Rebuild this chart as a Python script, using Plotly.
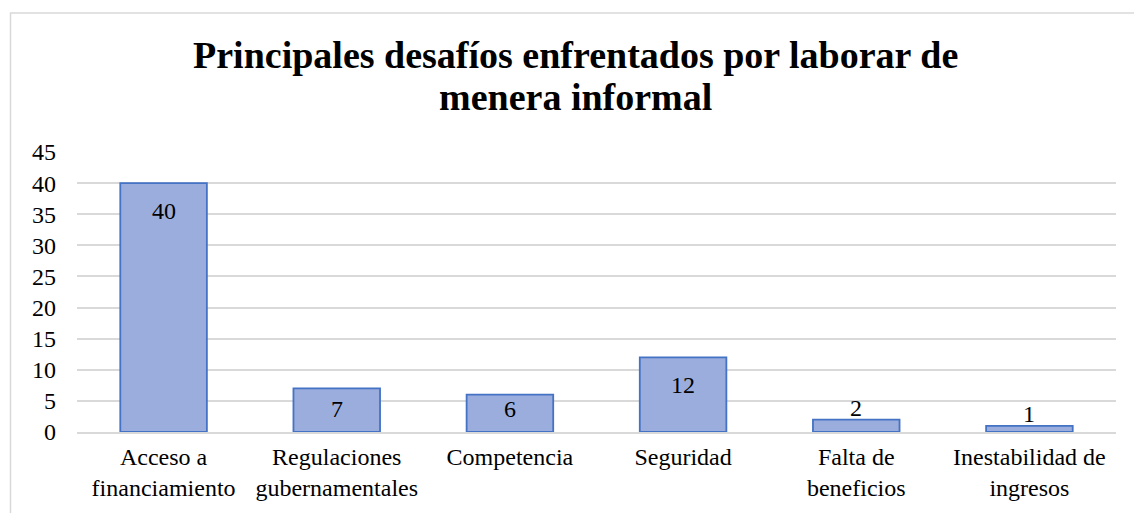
import plotly.graph_objects as go

categories = ["Acceso a<br>financiamiento", "Regulaciones<br>gubernamentales", "Competencia",
              "Seguridad", "Falta de<br>beneficios", "Inestabilidad de<br>ingresos"]
values = [40, 7, 6, 12, 2, 1]
title_lines = ["Principales desafíos enfrentados por laborar de", "menera informal"]
y_ticks = [0, 5, 10, 15, 20, 25, 30, 35, 40, 45]

FONT = "Times New Roman, Liberation Serif, serif"
W, H = 1134, 513
M_L, M_R, M_T, M_B = 77, 18, 152, 81
Y_MAX = 45
px_per_unit = (H - M_T - M_B) / Y_MAX

fig = go.Figure()
fig.add_trace(go.Bar(
    x=categories, y=values,
    marker=dict(color="#9BADDD", line=dict(color="#4472C4", width=1.8)),
    hoverinfo="x+y",
))

annotations = []
for c, v in zip(categories, values):
    h = v * px_per_unit
    if h >= 50:      # inside end
        a = dict(y=v, yanchor="top", yshift=-13)
    elif h >= 30:    # inside, held above the base
        a = dict(y=0, yanchor="bottom", yshift=8)
    else:            # outside end
        a = dict(y=v, yanchor="bottom", yshift=-3)
    a.update(x=c, xref="x", yref="y", text=str(v), showarrow=False,
             font=dict(family=FONT, size=24, color="#000000"))
    annotations.append(a)

annotations.append(dict(x=0.480, y=1.346, xref="paper", yref="paper", text=title_lines[0],
                        showarrow=False, xanchor="center", yanchor="middle",
                        font=dict(family=FONT, size=38, color="#000000", weight="bold")))
annotations.append(dict(x=0.480, y=1.196, xref="paper", yref="paper", text=title_lines[1],
                        showarrow=False, xanchor="center", yanchor="middle",
                        font=dict(family=FONT, size=38, color="#000000", weight="bold")))

fig.update_layout(
    width=W, height=H,
    margin=dict(l=M_L, r=M_R, t=M_T, b=M_B),
    paper_bgcolor="white", plot_bgcolor="white",
    bargap=0.5,
    showlegend=False,
    font=dict(family=FONT, size=24, color="#000000"),
    annotations=annotations,
    shapes=[dict(type="rect", xref="paper", yref="paper",
                 x0=-0.064, x1=1.2, y0=-0.6, y1=1.496,
                 line=dict(color="#D9D9D9", width=1.5), fillcolor="rgba(0,0,0,0)", layer="below")],
)
fig.update_yaxes(range=[0, Y_MAX], tickvals=y_ticks, showgrid=True, gridcolor="#D9D9D9", gridwidth=1.5,
                 zeroline=False, showline=False, ticks="", ticklabelstandoff=20,
                 tickfont=dict(family=FONT, size=24, color="#000000"), fixedrange=True)
fig.update_xaxes(showgrid=False, showline=True, linecolor="#D9D9D9", linewidth=1.5, ticks="",
                 ticklabelstandoff=2,
                 tickfont=dict(family=FONT, size=24, color="#000000"), fixedrange=True)

fig.write_html("out.html", config={"displayModeBar": False})
